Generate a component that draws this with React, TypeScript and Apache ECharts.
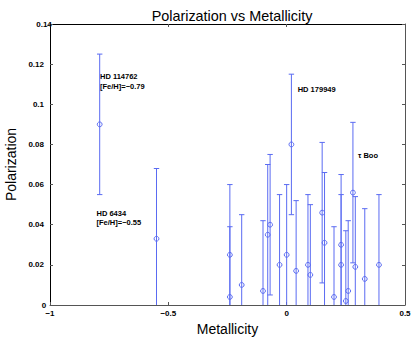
import React, { useEffect, useRef } from "react";
import * as echarts from "echarts";

const metallicity = [-0.79, -0.55, -0.24, -0.24, -0.19, -0.10, -0.08, -0.07, -0.03, 0.0, 0.02, 0.04, 0.09, 0.10, 0.15, 0.16, 0.20, 0.23, 0.23, 0.25, 0.26, 0.28, 0.29, 0.33, 0.39];
const polarization = [0.090, 0.033, 0.025, 0.004, 0.010, 0.007, 0.035, 0.040, 0.020, 0.025, 0.080, 0.017, 0.020, 0.015, 0.046, 0.031, 0.004, 0.030, 0.020, 0.002, 0.007, 0.056, 0.019, 0.013, 0.020];
const polError = [0.035, 0.035, 0.035, 0.035, 0.035, 0.035, 0.035, 0.035, 0.035, 0.035, 0.035, 0.035, 0.035, 0.035, 0.035, 0.035, 0.035, 0.035, 0.035, 0.035, 0.035, 0.035, 0.035, 0.035, 0.035];

const titleText = "Polarization vs Metallicity";
const xName = "Metallicity";
const yName = "Polarization";
const annotationTexts = ["HD 114762\n[Fe/H]=\u22120.79", "HD 6434\n[Fe/H]=\u22120.55", "HD 179949", "\u03c4 Boo"];

const FONT = "Liberation Sans";
const BLUE = "#5a6bf2";

export default function App() {
  const ref = useRef<HTMLDivElement>(null);
  useEffect(() => {
    if (!ref.current) return;
    const chart = echarts.init(ref.current, null, { renderer: "svg" });
    const data = metallicity.map((m, i) => [m, polarization[i], polError[i]]);
    const minus = (v: number) => String(v).replace("-", "\u2212");
    const tickLabel = { fontFamily: FONT, fontSize: 8, fontWeight: "bold" as const, color: "#000" };
    const annPos = [
      { left: 100, top: 72, lh: 9.5 },
      { left: 96.5, top: 208.6, lh: 9.3 },
      { left: 297.7, top: 84.8, lh: 9.3 },
      { left: 358, top: 150.5, lh: 9.3 },
    ];
    chart.setOption({
      animation: false,
      backgroundColor: "#fff",
      title: {
        text: titleText,
        left: 227,
        textAlign: "center",
        top: 3.5,
        textStyle: { fontFamily: FONT, fontSize: 14.4, fontWeight: "normal", color: "#000" },
      },
      grid: { left: 50, right: 10, top: 24, bottom: 38, containLabel: false, outerBoundsMode: "none" },
      xAxis: [
        {
          type: "value",
          min: -1,
          max: 0.5,
          interval: 0.5,
          position: "bottom",
          name: xName,
          nameLocation: "middle",
          nameGap: 10,
          nameTextStyle: { fontFamily: FONT, fontSize: 14, color: "#000" },
          axisLine: { show: true, onZero: false, lineStyle: { color: "#555", width: 1 } },
          axisTick: { show: true, inside: true, length: 3, lineStyle: { color: "#555" } },
          axisLabel: { ...tickLabel, margin: 4, alignMinLabel: "center", alignMaxLabel: "center", formatter: (v: number) => minus(v) },
          splitLine: { show: false },
        },
        {
          type: "value",
          min: -1,
          max: 0.5,
          interval: 0.5,
          position: "top",
          axisLine: { show: true, onZero: false, lineStyle: { color: "#000", width: 1 } },
          axisTick: { show: true, inside: true, length: 3, lineStyle: { color: "#555" } },
          axisLabel: { show: false },
          splitLine: { show: false },
        },
      ],
      yAxis: [
        {
          type: "value",
          min: 0,
          max: 0.14,
          interval: 0.02,
          position: "left",
          name: yName,
          nameLocation: "middle",
          nameGap: 31,
          nameTextStyle: { fontFamily: FONT, fontSize: 14, color: "#000" },
          axisLine: { show: true, onZero: false, lineStyle: { color: "#000", width: 1 } },
          axisTick: { show: true, inside: true, length: 3, lineStyle: { color: "#555" } },
          axisLabel: { ...tickLabel, margin: 6, alignMinLabel: "center", alignMaxLabel: "center" },
          splitLine: { show: false },
        },
        {
          type: "value",
          min: 0,
          max: 0.14,
          interval: 0.02,
          position: "right",
          axisLine: { show: true, onZero: false, lineStyle: { color: "#555", width: 1 } },
          axisTick: { show: true, inside: true, length: 3, lineStyle: { color: "#555" } },
          axisLabel: { show: false },
          splitLine: { show: false },
        },
      ],
      series: [
        {
          type: "custom",
          xAxisIndex: 0,
          yAxisIndex: 0,
          data,
          clip: true,
          renderItem: (params: any, api: any) => {
            const x = api.value(0);
            const y = api.value(1);
            const e = api.value(2);
            const lo = Math.max(0, y - e);
            const hi = y + e;
            const pLo = api.coord([x, lo]);
            const pHi = api.coord([x, hi]);
            const pC = api.coord([x, y]);
            const cw = 2.7;
            const ls = { stroke: BLUE, lineWidth: 1 };
            const children: any[] = [
              { type: "line", shape: { x1: pLo[0], y1: pLo[1], x2: pHi[0], y2: pHi[1] }, style: ls },
              { type: "line", shape: { x1: pHi[0] - cw, y1: pHi[1], x2: pHi[0] + cw, y2: pHi[1] }, style: ls },
            ];
            if (y - e > 0) {
              children.push({ type: "line", shape: { x1: pLo[0] - cw, y1: pLo[1], x2: pLo[0] + cw, y2: pLo[1] }, style: ls });
            }
            children.push({ type: "circle", shape: { cx: pC[0], cy: pC[1], r: 2.4 }, style: { fill: "none", stroke: BLUE, lineWidth: 1 } });
            return { type: "group", children };
          },
        },
      ],
      graphic: annotationTexts.map((t, i) => ({
        type: "text",
        left: annPos[i].left,
        top: annPos[i].top,
        style: {
          text: t,
          fontFamily: FONT,
          fontSize: 7.5,
          fontWeight: "bold",
          lineHeight: annPos[i].lh,
          fill: "#000",
        },
      })),
    });
    return () => chart.dispose();
  }, []);
  return <div ref={ref} style={{ position: "fixed", left: 0, top: 0, width: 415, height: 343, background: "#fff" }} />;
}
